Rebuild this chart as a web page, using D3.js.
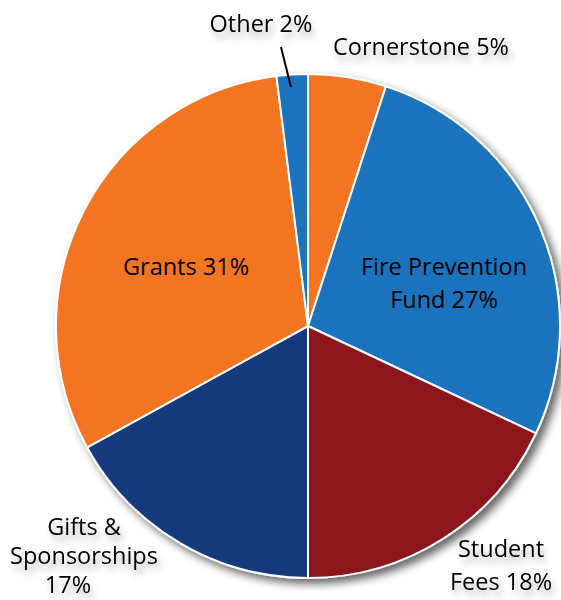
<!DOCTYPE html>
<html>
<head>
<meta charset="utf-8">
<script src="https://cdn.jsdelivr.net/npm/d3@7/dist/d3.min.js"></script>
<style>
  html, body { margin: 0; padding: 0; background: #fff; }
  svg { display: block; }
  .lbl { font-family: "Open Sans", sans-serif; font-size: 23.5px; fill: #000; }
</style>
</head>
<body>
<svg id="chart" width="561" height="600"></svg>
<script>
// Funding sources, clockwise from 12 o'clock
const categories = ['Cornerstone', 'Fire Prevention Fund', 'Student Fees', 'Gifts & Sponsorships', 'Grants', 'Other'];
const shares = [5, 27, 18, 17, 31, 2];
const colors = ['#F37421', '#1F73BD', '#8D171C', '#163A7C', '#F37421', '#1F73BD'];

// Label text lines, one entry per category
const labelLines = [
  ['Cornerstone 5%'],
  ['Fire Prevention', 'Fund 27%'],
  ['Student', 'Fees 18%'],
  ['Gifts &', 'Sponsorships', '17%'],
  ['Grants 31%'],
  ['Other 2%']
];

const W = 561, H = 600;
const cx = 308, cy = 326, R = 252;

const svg = d3.select('#chart');
const defs = svg.append('defs');

// soft grey shadow under the pie
const pieShadow = defs.append('filter').attr('id', 'pieShadow')
  .attr('x', '-20%').attr('y', '-20%').attr('width', '140%').attr('height', '140%');
pieShadow.append('feDropShadow')
  .attr('dx', 5).attr('dy', 5).attr('stdDeviation', 4)
  .attr('flood-color', '#000').attr('flood-opacity', 0.6);

// blurry shadow behind the outside labels
const txtShadow = defs.append('filter').attr('id', 'txtShadow')
  .attr('x', '-20%').attr('y', '-50%').attr('width', '140%').attr('height', '200%');
txtShadow.append('feDropShadow')
  .attr('dx', 3).attr('dy', 6).attr('stdDeviation', 3.5)
  .attr('flood-color', '#000').attr('flood-opacity', 0.3);

const pie = d3.pie().sort(null).value(d => d)(shares);
const arc = d3.arc().innerRadius(0).outerRadius(R);

const g = svg.append('g').attr('transform', `translate(${cx},${cy})`);

g.append('g').attr('filter', 'url(#pieShadow)')
  .selectAll('path')
  .data(pie)
  .join('path')
  .attr('d', arc)
  .attr('fill', (d, i) => colors[i])
  .attr('stroke', '#fff')
  .attr('stroke-width', 2)
  .attr('stroke-linejoin', 'round');

// Label placement relative to pie centre: [x, y of first baseline, line step, outside?]
const labelPos = [
  [113, -271, 33, true],
  [136, -51, 33, false],
  [193, 231, 33, true],
  [-224, 209, 29, true],
  [-122, -51, 33, false],
  [-47, -294, 33, true]
];
// small per-line nudges (the "17%" sits a bit left of the block)
const lineNudge = { '3-2': -16 };

const labels = g.append('g');
labelLines.forEach((lines, i) => {
  const [x, y, step, outside] = labelPos[i];
  const t = labels.append('text')
    .attr('class', 'lbl')
    .attr('text-anchor', 'middle')
    .attr('filter', outside ? 'url(#txtShadow)' : null);
  lines.forEach((s, k) => {
    t.append('tspan')
      .attr('x', x + (lineNudge[i + '-' + k] || 0))
      .attr('y', y + k * step)
      .text(s);
  });
});

// leader line for the small "Other" slice
const other = pie[5];
const mid = (other.startAngle + other.endAngle) / 2;
const rIn = R * 0.95;
g.append('line')
  .attr('x1', -27).attr('y1', -279)
  .attr('x2', rIn * Math.sin(mid) - 2).attr('y2', -rIn * Math.cos(mid))
  .attr('stroke', '#000').attr('stroke-width', 2);
</script>
</body>
</html>
